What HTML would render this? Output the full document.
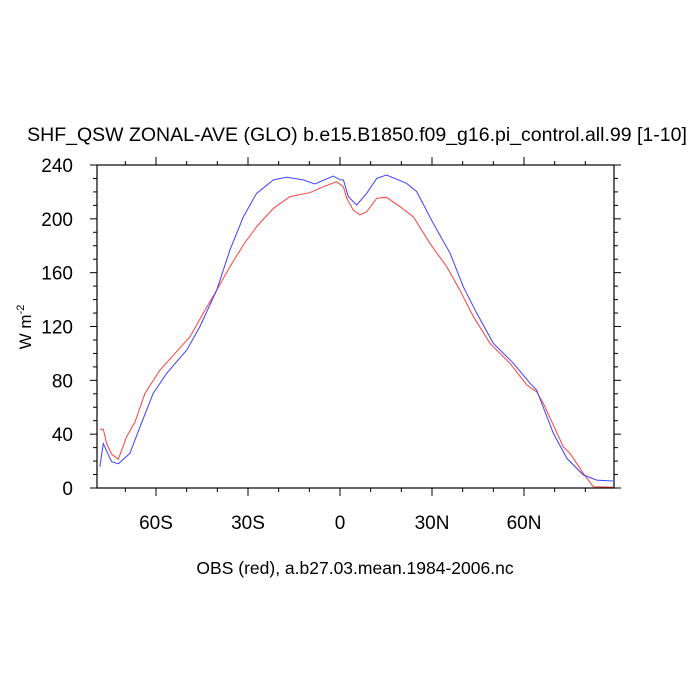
<!DOCTYPE html>
<html><head><meta charset="utf-8">
<style>
html,body{margin:0;padding:0;background:#fff;}
svg{display:block;font-family:"Liberation Sans",sans-serif;}
</style></head>
<body>
<svg id="chart" width="700" height="700" viewBox="0 0 700 700" xmlns="http://www.w3.org/2000/svg">
<rect x="0" y="0" width="700" height="700" fill="#fff"/>
<text x="357" y="141" font-size="19.5" text-anchor="middle" fill="#000">SHF_QSW ZONAL-AVE (GLO) b.e15.B1850.f09_g16.pi_control.all.99 [1-10]</text>
<text x="355" y="574" font-size="17.5" text-anchor="middle" fill="#000">OBS (red), a.b27.03.mean.1984-2006.nc</text>
<text transform="translate(31,327) rotate(-90)" font-size="17" text-anchor="middle" fill="#000">W m<tspan font-size="11" dy="-7">-2</tspan></text>
<g id="axes"></g>
<g id="series"></g>
<rect x="97" y="165" width="517" height="323" fill="none" stroke="#000" stroke-width="1.2"/>
</svg>
<script>
const xTickValues = [-60, -30, 0, 30, 60];
const xTickLabels = ["60S", "30S", "0", "30N", "60N"];
const yTickValues = [0, 40, 80, 120, 160, 200, 240];
const yTickLabels = ["0", "40", "80", "120", "160", "200", "240"];
const modelLat = [-78.3,-77.2,-74.5,-72.3,-68.5,-65.2,-60.9,-56.5,-50,-45.7,-40.2,-35.9,-31.5,-27.2,-21.7,-17.4,-12,-8.2,-2.2,0,1.1,2.7,5.4,8.7,12,15.2,21.7,25,30.4,35.9,40.2,44.6,50,56.5,62,64.1,69.6,74,79.3,83.7,89];
const modelVal = [15.8,33,19.6,18,25.8,45.6,70.3,85.2,102.5,119.9,147,176.8,201.6,219,228.9,230.9,228.9,225.9,231.8,229,228.9,216.5,210.3,219,230.1,232.6,226.4,220.2,196.7,174.4,149.6,129.8,107.5,92.7,77.8,72.8,40.6,22,9.7,5.9,5.2];
const obsLat = [-78.3,-77.2,-76.1,-74.5,-72.3,-69.6,-66.8,-63.6,-58.7,-53.3,-48.9,-44.6,-40.2,-35.9,-31.5,-27.2,-21.7,-16.3,-9.8,-5.4,-1.1,1.1,2.2,4.3,6.5,8.7,12,15.2,19.6,23.9,29.3,34.8,39.1,43.5,48.9,55.4,60.9,64.1,66.3,72.8,75,79.3,82.6,89];
const obsVal = [43.6,43.6,33.2,25.3,21.3,38.1,49.3,70.3,87.7,101.3,112.4,129.8,147,164.4,180.6,194.2,207.8,216.5,219.4,223.9,227.6,223.9,215.3,206.6,202.9,205.3,215.3,216,209,201.6,181.8,164.4,147,127.3,107.5,92.7,76.5,71.5,62.9,30.7,25.8,10.9,1,0.5];

const L=97,R=614,T=165,B=488;
function xs(v){return 340 + v*(92/30);}
function ys(v){return B - v*(B-T)/240;}
const NS="http://www.w3.org/2000/svg";
const axes=document.getElementById('axes');
const series=document.getElementById('series');
function mk(tag,attrs,parent){const e=document.createElementNS(NS,tag);for(const k in attrs)e.setAttribute(k,attrs[k]);parent.appendChild(e);return e;}

for(let v=-70; v<=80; v+=10){
  const major = v%30===0;
  const len = major?8:4;
  const x=xs(v);
  const tb=mk('line',{x1:x,x2:x,y1:B,y2:B+len,stroke:'#000','stroke-width':1},axes);
  
  
  const tt=mk('line',{x1:x,x2:x,y1:T,y2:T-len,stroke:'#000','stroke-width':1},axes);
  
  
}
xTickValues.forEach((v,i)=>{
  const t=mk('text',{x:xs(v),y:529,'font-size':19,'text-anchor':'middle',fill:'#000'},axes);
  t.textContent=xTickLabels[i];
  
  
});
for(let v=0; v<=240; v+=10){
  const major = v%40===0;
  const len = major?7:4;
  const y=ys(v);
  const tl=mk('line',{x1:L,x2:L-len,y1:y,y2:y,stroke:'#000','stroke-width':1},axes);
  
  
  const tr=mk('line',{x1:R,x2:R+len,y1:y,y2:y,stroke:'#000','stroke-width':1},axes);
  
  
}
yTickValues.forEach((v,i)=>{
  const t=mk('text',{x:73,y:ys(v)+7,'font-size':19,'text-anchor':'end',fill:'#000'},axes);
  t.textContent=yTickLabels[i];
  
  
});
function pts(lat,val){return lat.map((a,i)=>xs(a).toFixed(1)+','+ys(val[i]).toFixed(1)).join(' ');}
const obs=mk('polyline',{points:pts(obsLat,obsVal),fill:'none',stroke:'#ff4040','stroke-width':1},series);


const mod=mk('polyline',{points:pts(modelLat,modelVal),fill:'none',stroke:'#4040ff','stroke-width':1},series);


</script>
</body></html>
